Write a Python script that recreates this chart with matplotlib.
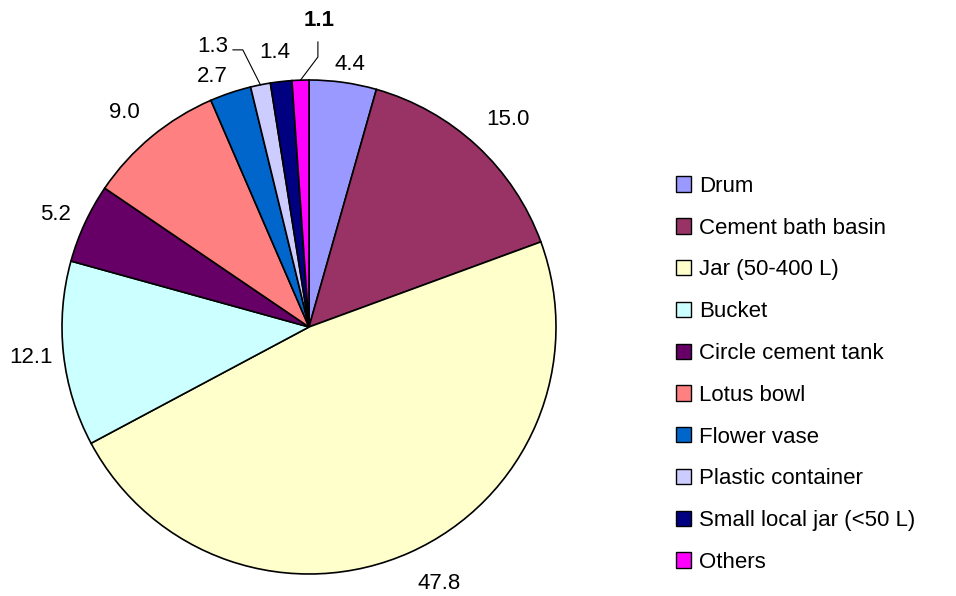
import numpy as np
import matplotlib
matplotlib.use("Agg")
import matplotlib.pyplot as plt

categories = ["Drum", "Cement bath basin", "Jar (50-400 L)", "Bucket",
              "Circle cement tank", "Lotus bowl", "Flower vase",
              "Plastic container", "Small local jar (<50 L)", "Others"]
values = [4.4, 15.0, 47.8, 12.1, 5.2, 9.0, 2.7, 1.3, 1.4, 1.1]
colors = ["#9999FF", "#993366", "#FFFFCC", "#CCFFFF", "#660066",
          "#FF8080", "#0066CC", "#CCCCFF", "#000080", "#FF00FF"]

# label placement: radius factor and angular nudge (deg, clockwise positive)
label_r = [1.077, 1.162, 1.163, 1.133, 1.122, 1.146, 1.088, None, 1.121, None]
label_dang = [1.0, 1.0, -2.8, 0.0, -0.9, -1.2, -2.5, 0.0, -0.7, 0.0]

plt.rcParams["font.family"] = ["Liberation Sans", "DejaVu Sans"]

W, H = 956, 596
fig = plt.figure(figsize=(W / 100, H / 100), dpi=100)

# pie centre (309, 327) px, radius 247 px
R = 247
lim = 1.25
size = 2 * lim * R
cx, cy = 309, H - 327
ax = fig.add_axes([(cx - size / 2) / W, (cy - size / 2) / H, size / W, size / H])
wedges, _ = ax.pie(values, colors=colors, startangle=90, counterclock=False,
                   wedgeprops=dict(edgecolor="black", linewidth=1.2))
ax.set_xlim(-lim, lim)
ax.set_ylim(-lim, lim)
ax.set_aspect("equal")
ax.axis("off")
for w in wedges:
    w.set_clip_on(False)

FS = 16
for i, (w, v) in enumerate(zip(wedges, values)):
    mid = np.deg2rad((w.theta1 + w.theta2) / 2)
    ex, ey = np.cos(mid), np.sin(mid)
    weight = "normal"
    if i == 7:
        tx, ty = -0.389, 1.134
        ax.plot([tx + 0.081, tx + 0.121, ex], [ty - 0.012, ty - 0.012, ey],
                color="black", lw=0.8, clip_on=False)
    elif i == 9:
        tx, ty = 0.040, 1.239
        weight = "bold"
        ax.plot([tx - 0.004, tx - 0.004, ex], [ty - 0.085, ty - 0.146, ey],
                color="black", lw=0.8, clip_on=False)
    else:
        a = mid - np.deg2rad(label_dang[i])
        tx, ty = label_r[i] * np.cos(a), label_r[i] * np.sin(a)
    ax.text(tx, ty, f"{v:.1f}", ha="center", va="center", fontsize=FS,
            fontweight=weight, clip_on=False)

leg = fig.legend(wedges, categories, loc="upper left",
                 bbox_to_anchor=(667 / W, 1 - 167 / H), frameon=False,
                 fontsize=FS, handlelength=0.68, handleheight=0.68,
                 handletextpad=0.36, labelspacing=0.935, borderaxespad=0)
for h in leg.legend_handles:
    h.set_linewidth(1.0)

fig.savefig("out.png", dpi=100)
